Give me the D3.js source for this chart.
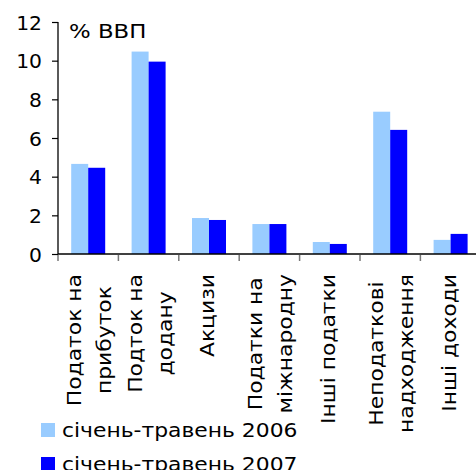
<!DOCTYPE html>
<html><head><meta charset="utf-8">
<script src="https://cdn.jsdelivr.net/npm/d3@7"></script>
<style>body{margin:0;background:#fff}svg{display:block}text{font-family:"DejaVu Sans",Verdana,sans-serif;fill:#000}</style>
</head><body>
<svg id="c" width="476" height="470"></svg>
<script>
const categories = [
  ["Податок на","прибуток"],
  ["Подток на","додану"],
  ["Акцизи"],
  ["Податки на","міжнародну"],
  ["Інші податки"],
  ["Неподаткові","надходження"],
  ["Інші доходи"]
];
const seriesNames = ["січень-травень 2006","січень-травень 2007"];
const values2006 = [4.66, 10.47, 1.86, 1.55, 0.62, 7.36, 0.73];
const values2007 = [4.46, 9.95, 1.76, 1.55, 0.52, 6.42, 1.04];
const yTicks = [0,2,4,6,8,10,12];
const colors = ["#99CCFF","#0000FF"];
const axisTitle = "% ВВП";

const svg = d3.select("#c");
const fs = 19;
const k = 1.15; // horizontal glyph stretch to match the wide face of the original
const idx = categories.map((c,i)=>i);
const x0 = d3.scaleBand().domain(idx).range([58, 58+7*60.4]).padding(0);
const x1 = d3.scaleBand().domain([0,1]).range([13.2, 47.2]).padding(0);
const y = d3.scaleLinear().domain([0,12]).range([254, 22]);

// bars
const series = [values2006, values2007];
series.forEach((vals,s)=>{
  svg.append("g").selectAll("rect").data(vals).join("rect")
    .attr("x",(d,i)=>x0(i)+x1(s))
    .attr("y",d=>y(d))
    .attr("width",x1.bandwidth())
    .attr("height",d=>y(0)-y(d))
    .attr("fill",colors[s]);
});

// y axis
const ya = svg.append("g").attr("transform","translate(58,0)")
  .call(d3.axisLeft(y).tickValues(yTicks).tickSize(6).tickPadding(9).tickFormat(d3.format("d")));
ya.select(".domain").attr("stroke","#000").attr("stroke-width",1.3).attr("d","M0,"+y(12)+"V"+y(0));
ya.selectAll(".tick line").attr("stroke","#000").attr("stroke-width",1.2);
ya.selectAll(".tick text").style("font-size","19.5px").attr("font-family",null)
  .attr("x",0).attr("dy","0.36em").attr("transform","translate(-16,0) scale(1.04,1)");

// x axis
const xa = svg.append("g").attr("transform","translate(0,"+y(0)+")");
xa.append("line").attr("x1",58).attr("x2",476).attr("stroke","#000").attr("stroke-width",1.6);
xa.selectAll("line.t").data(d3.range(8)).join("line").attr("class","t")
  .attr("x1",i=>58+i*x0.bandwidth()).attr("x2",i=>58+i*x0.bandwidth())
  .attr("y1",1).attr("y2",7).attr("stroke","#777").attr("stroke-width",1.5);

// category labels (rotated)
categories.forEach((lines,i)=>{
  const c = x0(i)+x0.bandwidth()/2;
  const g = svg.append("g");
  const offs = lines.length===1 ? [5] : [-7,23];
  const ts = lines.map((t)=>g.append("text").text(t).style("font-size",fs+"px").attr("text-anchor","middle"));
  const L = d3.max(ts.map(t=>t.node().getComputedTextLength()))*k;
  const cy = 274 + L/2;
  ts.forEach((t,j)=>t.attr("transform","translate("+(c+offs[j])+","+cy+") rotate(-90) scale("+k+",1)"));
});

// axis title
svg.append("text").attr("transform","translate(69,38) scale(1.2,1)").style("font-size",fs+"px").text(axisTitle);

// legend
seriesNames.forEach((n,s)=>{
  svg.append("rect").attr("x",41).attr("y",423+34*s).attr("width",14).attr("height",14).attr("fill",colors[s]);
  svg.append("text").attr("transform","translate(62,"+(437+34*s)+") scale("+k+",1)").style("font-size",fs+"px").text(n);
});
</script>
</body></html>
